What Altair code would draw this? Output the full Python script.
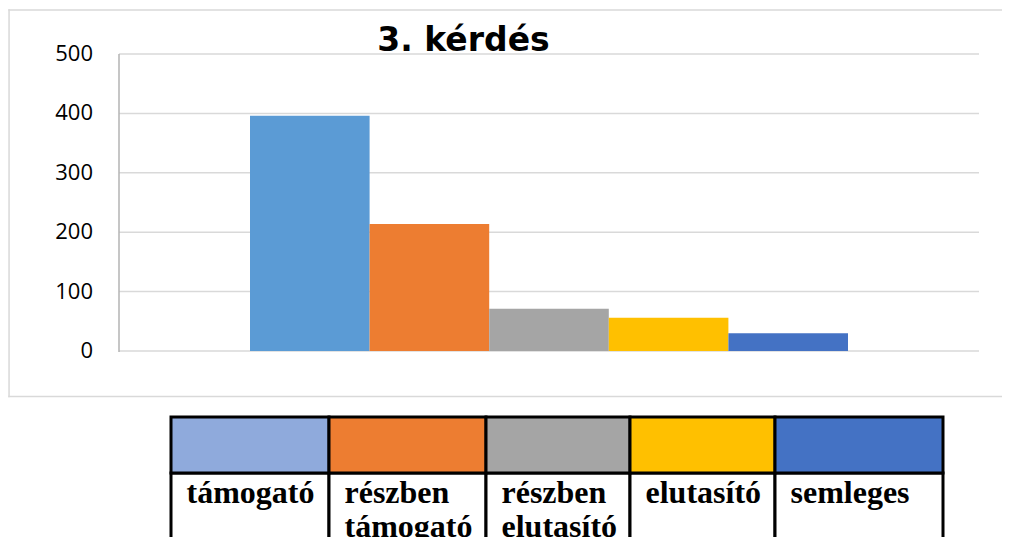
import altair as alt
import pandas as pd

# ---- data ----
categories = ["támogató", "részben támogató", "részben elutasító", "elutasító", "semleges"]
values = [396, 214, 71, 56, 30]
bar_colors = ["#5B9BD5", "#ED7D31", "#A5A5A5", "#FFC000", "#4472C4"]
legend_colors = ["#8FAADC", "#ED7D31", "#A5A5A5", "#FFC000", "#4472C4"]
legend_labels = ["támogató", "részben\ntámogató", "részben\nelutasító", "elutasító", "semleges"]
y_ticks = [0, 100, 200, 300, 400, 500]
title_text = "3. kérdés"

# ---- layout (chart coordinates; page = chart + 8) ----
W, H = 994, 529
PLOT_L, PLOT_R = 111, 971
BAR_GAP = 131
PLOT_TOP, PLOT_BOT = 46, 343
TABLE_LEFT = 163
TABLE_COL_W = [158, 157, 144, 145, 168]
ROW1_TOP, ROW1_BOT = 409, 465

bars_df = pd.DataFrame({"cat": categories, "val": values})
ticks_df = pd.DataFrame({"t": y_ticks, "lab": [str(t) for t in y_ticks]})

x0s, acc = [], TABLE_LEFT
for w in TABLE_COL_W:
    x0s.append(acc)
    acc += w
table_df = pd.DataFrame({
    "cat": categories,
    "label": legend_labels,
    "x0": x0s,
    "x1": [a + w for a, w in zip(x0s, TABLE_COL_W)],
    "tx": [a + 15.5 for a in x0s],
})
one = pd.DataFrame({"k": [0]})

y_scale = alt.Scale(domain=[0, 500], range=[PLOT_BOT, PLOT_TOP])

FRAME_COLOR = "#D9D9D9"
frame_left = alt.Chart(one).mark_rect(color=FRAME_COLOR).encode(
    x=alt.value(0.3), x2=alt.value(1.8), y=alt.value(1.3), y2=alt.value(389.2))
frame_top = alt.Chart(one).mark_rect(color=FRAME_COLOR).encode(
    x=alt.value(0.3), x2=alt.value(W), y=alt.value(1.3), y2=alt.value(2.8))
frame_bot = alt.Chart(one).mark_rect(color=FRAME_COLOR).encode(
    x=alt.value(0.3), x2=alt.value(W), y=alt.value(387.7), y2=alt.value(389.2))

grid = alt.Chart(ticks_df).mark_rule(color="#D9D9D9", strokeWidth=1.5).encode(
    y=alt.Y("t:Q", scale=y_scale, axis=None),
    x=alt.value(PLOT_L), x2=alt.value(PLOT_R),
)

ylabels = alt.Chart(ticks_df).mark_text(
    align="right", baseline="middle", font="Open Sans", fontSize=22, color="#000000"
).encode(
    y=alt.Y("t:Q", scale=y_scale, axis=None),
    x=alt.value(85),
    text="lab:N",
)

yaxis_line = alt.Chart(one).mark_rule(color="#B3B3B3", strokeWidth=1.5).encode(
    x=alt.value(PLOT_L), y=alt.value(PLOT_TOP), y2=alt.value(PLOT_BOT + 1)
)

bars = alt.Chart(bars_df).mark_bar().encode(
    x=alt.X("cat:N", sort=categories,
            scale=alt.Scale(domain=categories, range=[PLOT_L + BAR_GAP, PLOT_R - BAR_GAP],
                            paddingInner=0, paddingOuter=0),
            axis=None),
    y=alt.Y("val:Q", scale=y_scale, axis=None),
    color=alt.Color("cat:N", scale=alt.Scale(domain=categories, range=bar_colors), legend=None),
)

title = alt.Chart(one).mark_text(
    align="center", baseline="alphabetic", font="DejaVu Sans", fontWeight="bold",
    fontSize=33, color="#000000"
).encode(x=alt.value(455.5), y=alt.value(43), text=alt.value(title_text))

cells_top = alt.Chart(table_df).mark_rect(stroke="#000000", strokeWidth=3).encode(
    x=alt.X("x0:Q", scale=None, axis=None), x2="x1:Q",
    y=alt.value(ROW1_TOP), y2=alt.value(ROW1_BOT),
    fill=alt.Fill("cat:N", scale=alt.Scale(domain=categories, range=legend_colors), legend=None),
)

cells_bot = alt.Chart(table_df).mark_rect(fill="white", stroke="#000000", strokeWidth=3).encode(
    x=alt.X("x0:Q", scale=None, axis=None), x2="x1:Q",
    y=alt.value(ROW1_BOT), y2=alt.value(620),
)

cell_text = alt.Chart(table_df).mark_text(
    align="left", baseline="alphabetic", font="Liberation Serif", fontWeight="bold",
    fontSize=32, lineBreak="\n", lineHeight=34, color="#000000"
).encode(
    x=alt.X("tx:Q", scale=None, axis=None),
    y=alt.value(495),
    text="label:N",
)

chart = alt.layer(
    frame_left, frame_top, frame_bot, grid, yaxis_line, bars, ylabels, title,
    cells_bot, cells_top, cell_text
).resolve_scale(
    x="independent", fill="independent", color="independent"
).properties(
    width=W, height=H, autosize=alt.AutoSizeParams(type="none"), padding=0,
    background="white"
).configure_view(stroke=None)

chart.save("out.html", embed_options={"renderer": "svg", "actions": False})
